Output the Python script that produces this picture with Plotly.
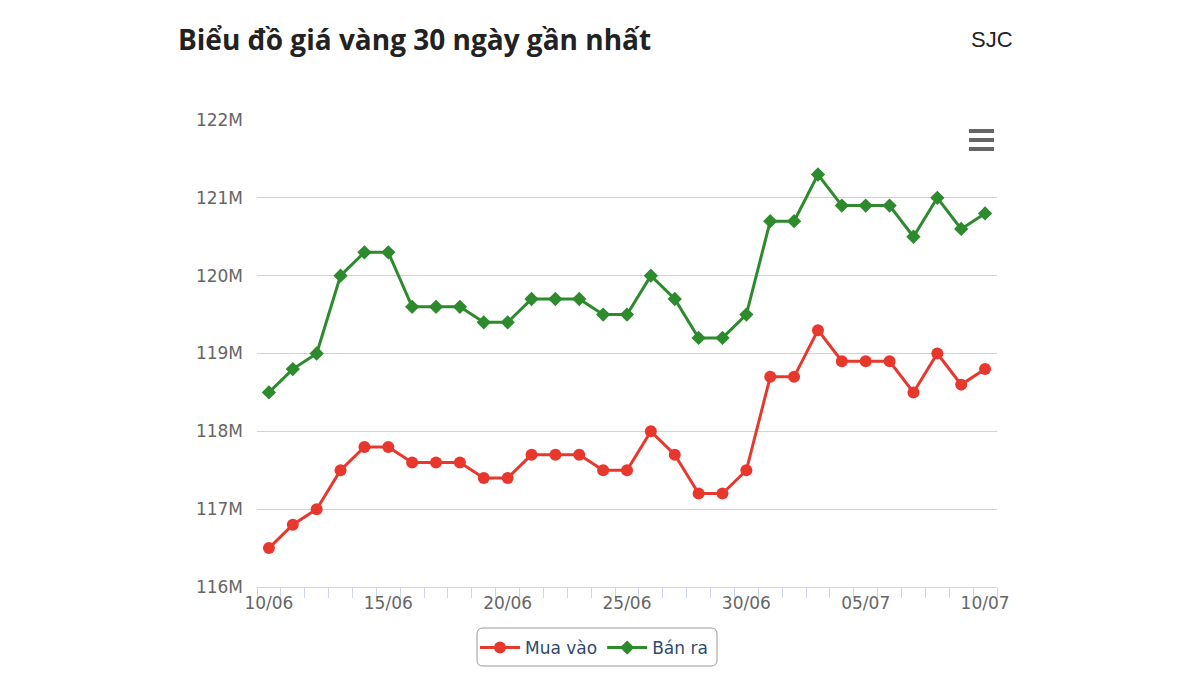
import plotly.graph_objects as go

dates = ["10/06","11/06","12/06","13/06","14/06","15/06","16/06","17/06","18/06","19/06",
         "20/06","21/06","22/06","23/06","24/06","25/06","26/06","27/06","28/06","29/06",
         "30/06","01/07","02/07","03/07","04/07","05/07","06/07","07/07","08/07","09/07","10/07"]
mua_vao = [116.5,116.8,117.0,117.5,117.8,117.8,117.6,117.6,117.6,117.4,
           117.4,117.7,117.7,117.7,117.5,117.5,118.0,117.7,117.2,117.2,
           117.5,118.7,118.7,119.3,118.9,118.9,118.9,118.5,119.0,118.6,118.8]
ban_ra = [118.5,118.8,119.0,120.0,120.3,120.3,119.6,119.6,119.6,119.4,
          119.4,119.7,119.7,119.7,119.5,119.5,120.0,119.7,119.2,119.2,
          119.5,120.7,120.7,121.3,120.9,120.9,120.9,120.5,121.0,120.6,120.8]
y_ticks = [116,117,118,119,120,121,122]
y_labels = ["116M","117M","118M","119M","120M","121M","122M"]
label_every = 5

RED = "#e8382d"
GREEN = "#2d8a2d"

xs = list(range(len(dates)))
fig = go.Figure()
fig.add_trace(go.Scatter(x=xs, y=mua_vao, name="Mua vào", mode="lines+markers",
                         line=dict(color=RED, width=3),
                         marker=dict(symbol="circle", size=12, color=RED)))
fig.add_trace(go.Scatter(x=xs, y=ban_ra, name="Bán ra", mode="lines+markers",
                         line=dict(color=GREEN, width=3),
                         marker=dict(symbol="diamond", size=11, color=GREEN)))

OFF = 8  # page body margin
L, R, T, B = 257, 997, 120, 587   # plot area in screen pixels
W, H = 1200 - 2 * OFF, 675 - 2 * OFF
pw, ph = R - L, B - T
def px(x): return (x - L) / pw
def py(y): return (B - y) / ph

tickvals = [i for i in xs if i % label_every == 0]
AXFONT = dict(family="DejaVu Sans, sans-serif", size=17, color="#666666")
fig.update_layout(
    width=W, height=H,
    margin=dict(l=L - OFF, r=W - (R - OFF), t=T - OFF, b=H - (B - OFF), autoexpand=False),
    paper_bgcolor="white", plot_bgcolor="white",
    font=dict(family="DejaVu Sans, sans-serif", color="#666666", size=16),
    showlegend=True,
    legend=dict(orientation="h", x=px(594), xanchor="center", y=py(630), yanchor="top",
                font=dict(size=17, color="#2f4a6d", family="DejaVu Sans, sans-serif"),
                bgcolor="rgba(0,0,0,0)", borderwidth=0, itemwidth=40),
    xaxis=dict(range=[-0.5, len(dates) - 0.5], tickvals=tickvals,
               ticktext=[dates[i] for i in tickvals], showgrid=False, zeroline=False,
               showline=True, linecolor="#ccd6eb", linewidth=1, ticks="",
               ticklabelstandoff=1, tickfont=AXFONT, automargin=False,
               minor=dict(tick0=-0.5, dtick=1, ticks="outside", ticklen=10,
                          tickcolor="#ccd6eb", tickwidth=1, showgrid=False)),
    yaxis=dict(range=[116, 122], tickvals=y_ticks, ticktext=y_labels,
               showgrid=True, gridcolor="#d2d2d2", gridwidth=1, zeroline=False,
               showline=False, ticks="", ticklabelstandoff=13, tickfont=AXFONT,
               automargin=False),
)

# title and subtitle
fig.add_annotation(text="<b>Biểu đồ giá vàng 30 ngày gần nhất</b>", xref="paper", yref="paper",
                   x=px(176), y=py(39), xanchor="left", yanchor="middle", showarrow=False,
                   font=dict(family="Open Sans, sans-serif", size=28, color="#222222"))
fig.add_annotation(text="SJC", xref="paper", yref="paper",
                   x=px(1015), y=py(39), xanchor="right", yanchor="middle", showarrow=False,
                   font=dict(family="Liberation Sans, Arial, sans-serif", size=22, color="#222222"))

# legend rounded box
x0, x1, y0, y1 = px(477), px(717), py(666), py(628)
rx, ry = 6 / pw, 6 / ph
path = (f"M {x0+rx},{y1} L {x1-rx},{y1} Q {x1},{y1} {x1},{y1-ry} "
        f"L {x1},{y0+ry} Q {x1},{y0} {x1-rx},{y0} L {x0+rx},{y0} Q {x0},{y0} {x0},{y0+ry} "
        f"L {x0},{y1-ry} Q {x0},{y1} {x0+rx},{y1} Z")
fig.add_shape(type="path", path=path, xref="paper", yref="paper",
              line=dict(color="#999999", width=1))

# export menu icon
for yy in (131, 140, 149):
    fig.add_shape(type="line", xref="paper", yref="paper", x0=px(969), x1=px(994),
                  y0=py(yy), y1=py(yy), line=dict(color="#666666", width=4))

fig.write_html("out.html")
